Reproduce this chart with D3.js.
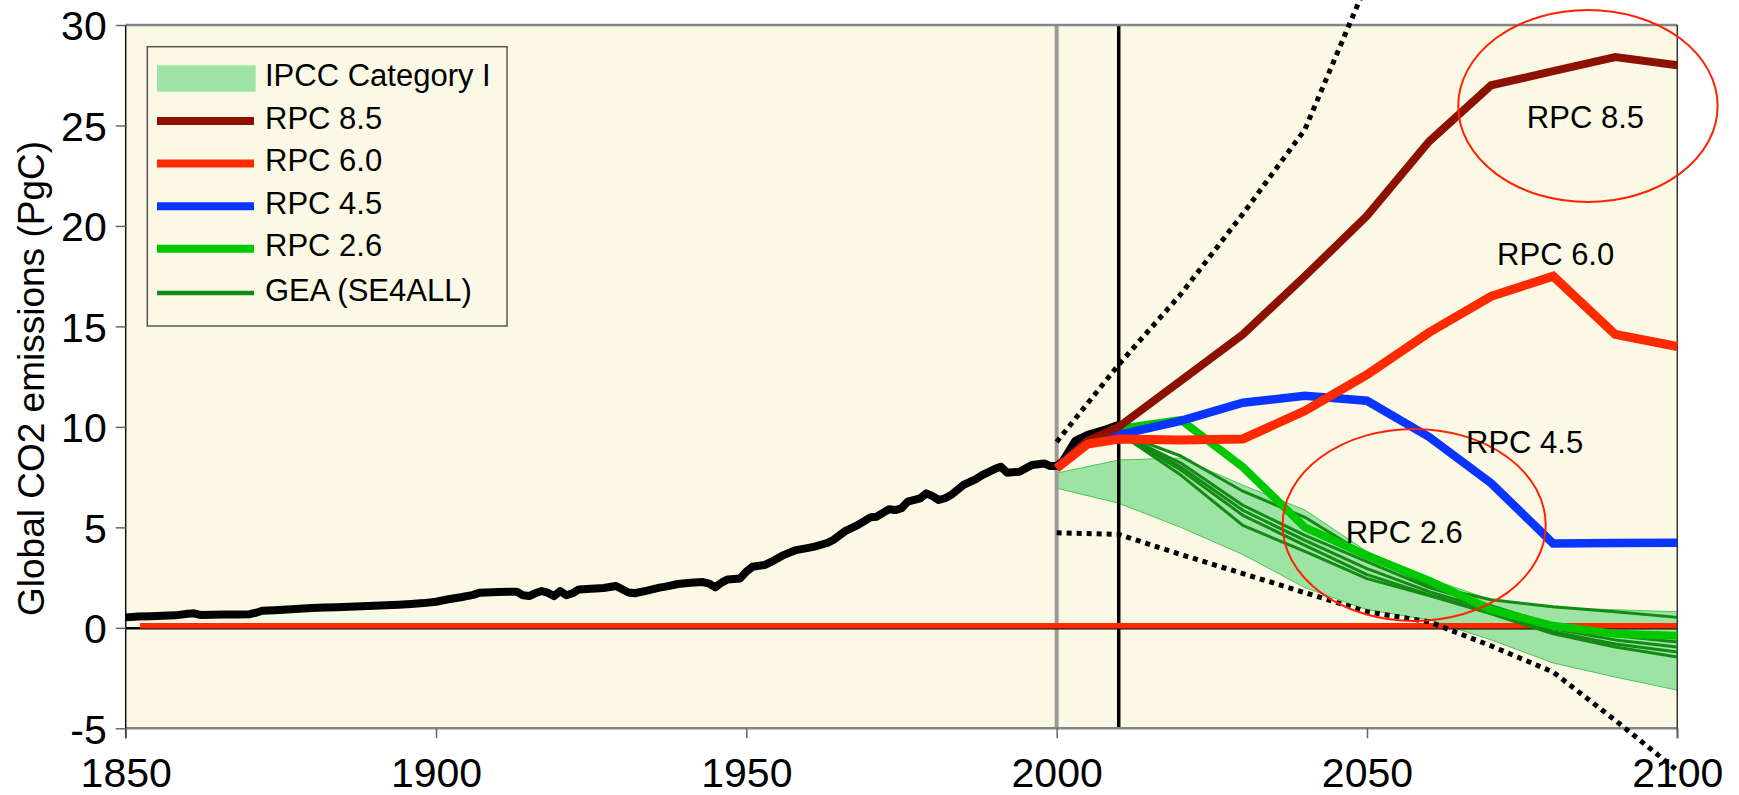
<!DOCTYPE html>
<html>
<head>
<meta charset="utf-8">
<script src="https://cdn.jsdelivr.net/npm/d3@7"></script>
<style>
  html, body { margin: 0; padding: 0; background: #ffffff; }
  svg { display: block; }
  text { font-family: "Liberation Sans", Arial, Helvetica, sans-serif; fill: #000; }
</style>
</head>
<body>
<svg id="chart" width="1739" height="795"></svg>
<script>
// ---- Historical global CO2 emissions (PgC) ----
const histYears = [1850,1852,1854,1856,1858,1860,1861,1862,1864,1866,1868,1870,1871,1872,1874,1876,1878,1880,
  1882,1884,1886,1888,1890,1892,1894,1896,1898,1900,1902,1904,1906,1907,1908,1910,1912,1913,1914,1915,1916,1917,
  1918,1919,1920,1921,1922,1923,1925,1927,1929,1930,1931,1932,1934,1936,1937,1939,1941,1943,1944,1945,1946,1947,
  1949,1950,1951,1953,1954,1956,1958,1960,1961,1963,1964,1966,1968,1970,1971,1972,1973,1974,1975,1976,1978,1979,
  1980,1981,1982,1983,1985,1987,1988,1990,1991,1992,1994,1996,1998,1999,2000,2001,2003,2005,2008,2010];
const histValues = [0.52,0.56,0.58,0.60,0.62,0.70,0.72,0.64,0.65,0.66,0.66,0.68,0.75,0.85,0.88,0.91,0.95,0.99,
  1.01,1.03,1.05,1.07,1.10,1.12,1.15,1.19,1.23,1.30,1.42,1.52,1.64,1.75,1.76,1.78,1.80,1.80,1.62,1.58,1.72,1.83,
  1.75,1.58,1.83,1.62,1.72,1.91,1.95,1.98,2.08,1.92,1.76,1.72,1.85,2.00,2.05,2.18,2.24,2.28,2.20,2.02,2.25,2.41,
  2.46,2.80,3.04,3.13,3.28,3.62,3.87,3.98,4.04,4.22,4.37,4.83,5.12,5.50,5.53,5.72,5.90,5.86,5.95,6.28,6.44,6.69,
  6.55,6.36,6.45,6.61,7.11,7.40,7.60,7.90,8.02,7.72,7.77,8.10,8.18,8.05,8.05,8.30,9.30,9.60,9.88,10.10];

// ---- RPC scenarios ----
const rpcYears = [2000,2005,2010,2020,2030,2040,2050,2060,2070,2080,2090,2100];
const rpc85 = [7.94,9.30,10.00,12.30,14.60,17.50,20.50,24.20,27.00,27.70,28.40,28.00];
const rpc60 = [7.94,9.15,9.40,9.35,9.40,10.80,12.60,14.70,16.50,17.50,14.60,14.00];
const rpc45 = [7.94,9.30,9.60,10.30,11.20,11.55,11.30,9.50,7.20,4.20,4.22,4.24];
const rpc26 = [7.94,9.30,9.90,10.35,8.00,5.00,3.60,2.35,0.90,0.10,-0.30,-0.40];

// ---- GEA (SE4ALL) pathways ----
const geaYears = [2010,2020,2030,2040,2050,2060,2070,2080,2090,2100];
const gea1 = [9.70,8.55,6.80,5.50,3.60,2.10,1.40,1.05,0.80,0.52];
const gea2 = [9.70,8.20,6.10,4.60,3.30,2.00,1.10,0.15,-0.40,-0.70];
const gea3 = [9.70,8.00,5.85,4.35,2.95,1.80,0.90,-0.05,-0.60,-0.95];
const gea4 = [9.70,7.85,5.60,4.10,2.65,1.65,0.75,-0.20,-0.80,-1.20];
const gea5 = [9.70,7.60,5.10,3.80,2.45,1.60,0.70,-0.30,-0.95,-1.45];

// ---- IPCC Category I range ----
const bandYears = [2000,2010,2020,2030,2040,2050,2060,2070,2080,2090,2100];
const bandHigh = [7.70,8.35,8.45,7.10,5.86,3.80,2.45,1.40,1.00,0.90,0.80];
const bandLow  = [6.95,6.20,5.00,3.65,2.00,0.90,0.40,-0.60,-1.75,-2.45,-3.10];

// ---- Envelope (dotted) ----
const upperYears = [2000,2010,2020,2030,2040,2050];
const upperValues = [9.25,13.10,16.60,20.60,24.80,32.10];
const lowerYears = [2000,2010,2020,2030,2040,2050,2060,2070,2080,2090,2100];
const lowerValues = [4.73,4.65,3.65,2.70,1.75,0.80,0.30,-0.90,-2.20,-4.60,-7.10];

// ---- Zero reference ----
const zeroYears = [1852.3,2100];
const zeroValues = [0,0];

// ---- Axis ticks ----
const xTicks = [1850,1900,1950,2000,2050,2100];
const yTicks = [-5,0,5,10,15,20,25,30];

// ---- Markers ----
const markerYears = [2000,2010];

// ---- Highlight ellipses and labels ----
const ringLabels = ["RPC 8.5","RPC 2.6"];
const ringYears = [2085.6,2057.6];
const ringValues = [25.97,5.12];
const ringHalfYears = [20.9,21.2];
const ringHalfValues = [4.78,4.78];

const tagLabels = ["RPC 8.5","RPC 6.0","RPC 4.5","RPC 2.6"];
const tagYears = [2085.2,2080.4,2075.4,2056.0];
const tagValues = [24.87,18.06,8.71,4.21];

// ---- Legend ----
const legendLabels = ["IPCC Category I","RPC 8.5","RPC 6.0","RPC 4.5","RPC 2.6","GEA (SE4ALL)"];

// ---- Styling ----
const colors = {
  bg: "#fcf8e6",
  band: "#9de3a4",
  bandEdge: "#4cc45c",
  r85: "#8c1100",
  r60: "#ff2a00",
  r45: "#0a34ff",
  r26: "#00c800",
  gea: "#138a13"
};

const svg = d3.select("#chart");
const plot = { left: 125.7, right: 1677.3, top: 25, bottom: 728.3 };

const x = d3.scaleLinear().domain([1850, 2100]).range([plot.left, plot.right]);
const y = d3.scaleLinear().domain([-5, 30]).range([plot.bottom, plot.top]);

const zip = (xs, vs) => xs.map((yr, i) => ({ year: yr, value: vs[i] }));
const line = d3.line().x(d => x(d.year)).y(d => y(d.value));

// plot background
svg.append("rect")
  .attr("x", plot.left).attr("y", plot.top)
  .attr("width", plot.right - plot.left).attr("height", plot.bottom - plot.top)
  .attr("fill", colors.bg);

// IPCC Category I band
const bandData = bandYears.map((yr, i) => ({ year: yr, hi: bandHigh[i], lo: bandLow[i] }));
svg.append("path")
  .datum(bandData)
  .attr("d", d3.area().x(d => x(d.year)).y0(d => y(d.lo)).y1(d => y(d.hi)))
  .attr("fill", colors.band);
svg.append("path").datum(zip(bandYears, bandHigh)).attr("d", line)
  .attr("fill", "none").attr("stroke", colors.bandEdge).attr("stroke-width", 1);
svg.append("path").datum(zip(bandYears, bandLow)).attr("d", line)
  .attr("fill", "none").attr("stroke", colors.bandEdge).attr("stroke-width", 1);

// vertical markers at 2000 (grey) and 2010 (black)
svg.append("line")
  .attr("x1", x(markerYears[0])).attr("x2", x(markerYears[0]))
  .attr("y1", y(30)).attr("y2", y(-5))
  .attr("stroke", "#9a9a9a").attr("stroke-width", 4);
svg.append("line")
  .attr("x1", x(markerYears[1])).attr("x2", x(markerYears[1]))
  .attr("y1", y(30)).attr("y2", y(-5))
  .attr("stroke", "#000").attr("stroke-width", 3.5);

// zero lines
svg.append("line")
  .attr("x1", x(1850)).attr("x2", x(2100))
  .attr("y1", y(0) + 0.5).attr("y2", y(0) + 0.5)
  .attr("stroke", "#000").attr("stroke-width", 2.5);
svg.append("path").datum(zip(zeroYears, zeroValues)).attr("d", line)
  .attr("transform", "translate(0,-2)")
  .attr("fill", "none").attr("stroke", colors.r60).attr("stroke-width", 5.5);

// frame
const frame = svg.append("g");
frame.append("line").attr("x1", plot.left).attr("x2", plot.right).attr("y1", plot.top).attr("y2", plot.top)
  .attr("stroke", "#858585").attr("stroke-width", 2.5);
frame.append("line").attr("x1", plot.left).attr("x2", plot.right).attr("y1", plot.bottom).attr("y2", plot.bottom)
  .attr("stroke", "#858585").attr("stroke-width", 2.5);
frame.append("line").attr("x1", plot.left).attr("x2", plot.left).attr("y1", plot.top).attr("y2", plot.bottom + 10)
  .attr("stroke", "#111").attr("stroke-width", 1.5);
frame.append("line").attr("x1", plot.right).attr("x2", plot.right).attr("y1", plot.top).attr("y2", plot.bottom + 10)
  .attr("stroke", "#333").attr("stroke-width", 1.5);

// axes (plain hyphen-minus for negative labels)
const plainNum = d => String(d);
const yAxis = svg.append("g")
  .attr("transform", `translate(${plot.left},0)`)
  .call(d3.axisLeft(y).tickValues(yTicks).tickFormat(plainNum).tickSize(10).tickPadding(9));
const xAxis = svg.append("g")
  .attr("transform", `translate(0,${plot.bottom})`)
  .call(d3.axisBottom(x).tickValues(xTicks).tickFormat(plainNum).tickSize(10).tickPadding(19.5));
[yAxis, xAxis].forEach(g => {
  g.select(".domain").remove();
  g.selectAll(".tick line").attr("stroke", "#666").attr("stroke-width", 1.5);
  g.selectAll(".tick text").style("font-size", "41px").attr("fill", "#000")
    .style("font-family", '"Liberation Sans", Arial, sans-serif');
});
yAxis.selectAll(".tick text").attr("dy", "0.36em");

// axis title
svg.append("text")
  .attr("transform", "translate(44,378.5) rotate(-90)")
  .attr("text-anchor", "middle")
  .style("font-size", "37px")
  .text("Global CO2 emissions (PgC)");

// dotted envelope lines (not clipped to plot area)
svg.append("path").datum(zip(upperYears, upperValues)).attr("d", line)
  .attr("fill", "none").attr("stroke", "#000").attr("stroke-width", 5).attr("stroke-dasharray", "5,5");
svg.append("path").datum(zip(lowerYears, lowerValues)).attr("d", line)
  .attr("fill", "none").attr("stroke", "#000").attr("stroke-width", 5).attr("stroke-dasharray", "5,5");

// historical emissions
svg.append("path").datum(zip(histYears, histValues)).attr("d", line)
  .attr("fill", "none").attr("stroke", "#000").attr("stroke-width", 8)
  .attr("stroke-linejoin", "round");

// GEA pathways
[gea1, gea2, gea3, gea4, gea5].forEach(vals => {
  svg.append("path").datum(zip(geaYears, vals)).attr("d", line)
    .attr("fill", "none").attr("stroke", colors.gea).attr("stroke-width", 3)
    .attr("stroke-linejoin", "round");
});

// RPC scenarios
[[rpc26, colors.r26, 8], [rpc45, colors.r45, 8.5], [rpc85, colors.r85, 8], [rpc60, colors.r60, 9]]
  .forEach(([vals, col, w]) => {
    svg.append("path").datum(zip(rpcYears, vals)).attr("d", line)
      .attr("fill", "none").attr("stroke", col).attr("stroke-width", w)
      .attr("stroke-linejoin", "miter");
  });

// highlight ellipses
ringLabels.forEach((lab, i) => {
  svg.append("ellipse")
    .attr("cx", x(ringYears[i])).attr("cy", y(ringValues[i]))
    .attr("rx", x(ringYears[i] + ringHalfYears[i]) - x(ringYears[i]))
    .attr("ry", y(ringValues[i] - ringHalfValues[i]) - y(ringValues[i]))
    .attr("fill", "none").attr("stroke", "#ff2200").attr("stroke-width", 2);
});

// scenario labels
tagLabels.forEach((lab, i) => {
  svg.append("text")
    .attr("x", x(tagYears[i])).attr("y", y(tagValues[i]))
    .attr("text-anchor", "middle")
    .style("font-size", "31px")
    .text(lab);
});

// legend
const lg = svg.append("g");
lg.append("rect")
  .attr("x", 147.3).attr("y", 46.7).attr("width", 359.7).attr("height", 279.3)
  .attr("fill", colors.bg).attr("stroke", "#555").attr("stroke-width", 1.5);
const legendStyles = [
  { type: "patch", color: colors.band },
  { type: "line", color: colors.r85, w: 8 },
  { type: "line", color: colors.r60, w: 8 },
  { type: "line", color: colors.r45, w: 8 },
  { type: "line", color: colors.r26, w: 8 },
  { type: "line", color: colors.gea, w: 4.5 }
];
const rowY = [78.5, 121, 163.5, 206.3, 248.8, 293];
legendLabels.forEach((lab, i) => {
  const st = legendStyles[i];
  const cy = rowY[i];
  if (st.type === "patch") {
    lg.append("rect").attr("x", 157).attr("y", cy - 13.2).attr("width", 98.6).attr("height", 26.4)
      .attr("fill", st.color);
  } else {
    lg.append("line").attr("x1", 157).attr("x2", 254).attr("y1", cy).attr("y2", cy)
      .attr("stroke", st.color).attr("stroke-width", st.w);
  }
  lg.append("text").attr("x", 265).attr("y", cy + 7.5)
    .style("font-size", "31px").text(lab);
});
</script>
</body>
</html>
